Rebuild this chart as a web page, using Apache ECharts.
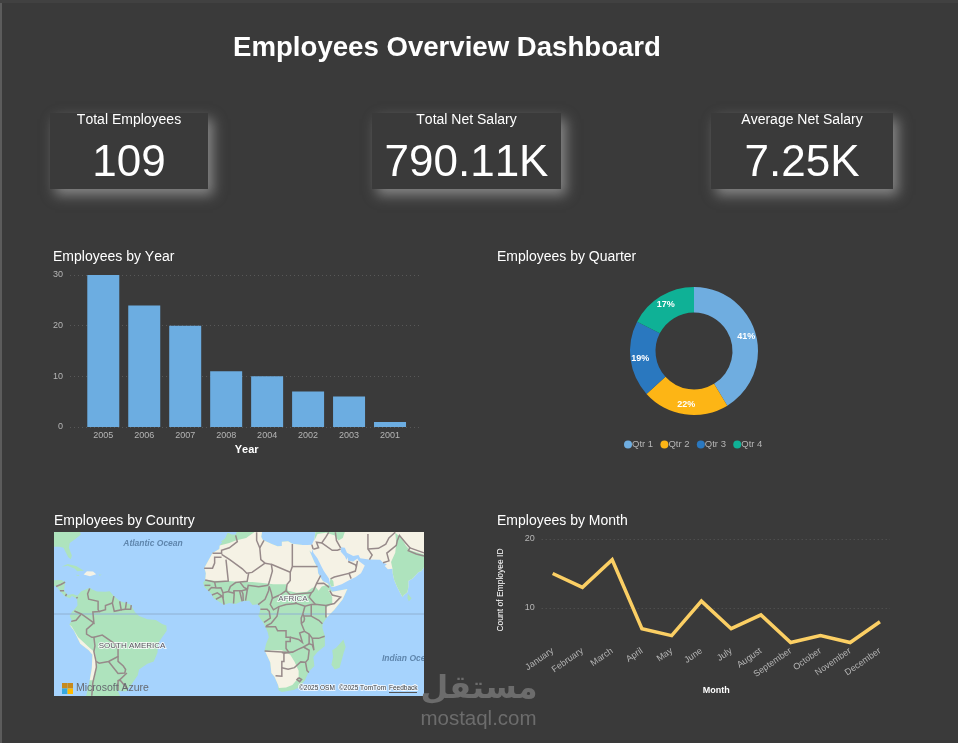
<!DOCTYPE html>
<html>
<head>
<meta charset="utf-8">
<style>
  html, body { margin: 0; padding: 0; background: #3a3a3a; }
  #chart { width: 958px; height: 743px; }
</style>
<script src="https://cdn.jsdelivr.net/npm/echarts@6/dist/echarts.min.js"></script>
</head>
<body>
<div id="chart"></div>
<script>
// Dashboard figures
const dashboardTitle = 'Employees Overview Dashboard';
const kpiNames = ['Total Employees', 'Total Net Salary', 'Average Net Salary'];
const kpiValues = ['109', '790.11K', '7.25K'];

const years = ['2005', '2006', '2007', '2008', '2004', '2002', '2003', '2001'];
const yearCounts = [30, 24, 20, 11, 10, 7, 6, 1];

const quarters = ['Qtr 1', 'Qtr 2', 'Qtr 3', 'Qtr 4'];
const quarterCounts = [45, 24, 21, 19];

const months = ['January', 'February', 'March', 'April', 'May', 'June', 'July', 'August', 'September', 'October', 'November', 'December'];
const monthCounts = [15, 13, 17, 7, 6, 11, 7, 9, 5, 6, 5, 8];

// Map view limits, in degrees
const lonWest = -88.5, lonEast = 87.7, latEdge = 36.3;

// Land outlines, as [lon, lat]
const africaCoast = [[-5.9,35.8],[-6.8,34],[-9.6,31],[-9.8,29.5],[-13,27.8],[-14.8,25],[-16.9,21.5],[-16.2,19],[-16.5,16],[-17.5,14.7],[-16.7,12.5],[-15,11],[-13.5,9.5],[-12.5,7.5],[-11,6.5],[-7.6,4.4],[-5,5.2],[-2,4.8],[1,6],[4.5,6.3],[6,4.3],[8.5,4.6],[9.7,3.5],[9.5,1],[8.8,-0.8],[11,-3.9],[12.2,-6],[13.3,-8.8],[13.8,-11],[12.5,-14],[11.8,-17],[12.5,-18.5],[14.5,-22.5],[15,-27],[16.5,-28.6],[18.2,-32],[18.4,-34.1],[20,-34.8],[25.7,-34],[28,-33],[31,-30],[32.8,-26.5],[35.5,-24],[35,-20],[37,-17.8],[40.5,-15],[40.5,-10.5],[39.3,-6.5],[39.5,-4.5],[41.5,-1.5],[45,2],[49,7],[51.2,11.8],[48,11.2],[44,10.5],[43.2,11.8],[42.5,14],[39.5,15.5],[37.3,19],[37,21.5],[35.5,24],[33.8,27.5],[32.6,29.9],[32.3,31.2],[30,31.2],[25,31.7],[23,32.7],[20,32.5],[20,30.8],[18,30.6],[15.5,31.5],[11,33.2],[10.2,34.5],[10.6,36.3],[-1.5,36.3],[-2,35.2],[-4,35.2],[-5.4,35.9]];
const southAmericaCoast = [[-77.4,8.6],[-75.5,10.7],[-74,11.3],[-71.5,12.4],[-70,11.5],[-68,10.6],[-64,10.5],[-62,10.7],[-60,8.5],[-57,6],[-52,4.5],[-50,1],[-48,-1],[-44,-2.5],[-40,-2.8],[-37,-4.8],[-35,-5.5],[-34.8,-8],[-37,-11],[-39,-14],[-39.2,-18],[-41,-22],[-44,-23],[-48,-25.5],[-48.6,-28],[-52,-32.2],[-54,-34.5],[-57,-34.5],[-58.3,-34],[-57,-36.3],[-73.2,-36.3],[-71.5,-30],[-70.5,-25],[-70.2,-19],[-72,-17],[-76,-14],[-79,-8],[-81.2,-5],[-80,-3],[-81,-1],[-80,1],[-78.5,2.5],[-77.3,4],[-77.5,7],[-77.9,7.5]];
const centralAmericaCoast = [[-77.4,8.6],[-79.5,9.5],[-82,9],[-83.7,11],[-83.2,15],[-85,16],[-88.5,15.8],[-88.5,13.2],[-87.5,13],[-85.7,11],[-83.5,8.5],[-81,7.5],[-80,8.5],[-78,7.5]];
const usSoutheastCoast = [[-88.5,36.3],[-76,36.3],[-75.8,35.2],[-78,33.8],[-81,32],[-81.4,30],[-80,26.8],[-80.5,25.2],[-81.7,26],[-82.8,28],[-84,30],[-86,30.4],[-88.5,30.4]];
const cubaCoast = [[-84.9,21.9],[-82,23.1],[-78,22.3],[-74.2,20.2],[-77.5,19.9],[-78.5,21],[-82,22.4]];
const hispaniolaCoast = [[-74.4,18.5],[-72.8,19.9],[-69.9,19.8],[-68.4,18.6],[-71.4,17.7]];
const jamaicaCoast = [[-78.3,18.4],[-76.3,18.2],[-77,17.8]];
const puertoRicoCoast = [[-67.2,18.5],[-65.7,18.4],[-66.8,17.9]];
const madagascarCoast = [[49.3,-12],[50.4,-15.5],[49.5,-18],[47.5,-24.8],[45.2,-25.5],[43.6,-23.5],[44.4,-20],[44,-17],[46,-15.7],[48,-13.5]];
const sriLankaCoast = [[80,9.6],[81.8,7.5],[80.5,6],[79.8,7.5]];
const asiaCoast = [[32.3,31.2],[34.3,31.3],[35.5,33.5],[36,36.3],[87.7,36.3],[87.7,21.7],[86.5,20],[85,19.5],[82.3,16.6],[80.2,15.5],[80.3,13],[79.8,10.3],[78,8.9],[77.5,8],[76.3,10],[74.8,13],[73.5,16],[72.8,19],[72.7,21],[70.5,20.8],[69,22.3],[70,23],[68.2,23.7],[66.8,25],[61.5,25.1],[57.3,25.6],[56.5,27],[54,26.6],[51,28],[50,30],[48,30.2],[48.2,29.5],[48,28.5],[50,26.5],[50.8,25],[51.5,26],[51.5,24.5],[54,24.2],[56,25.5],[56.5,24.5],[59.5,22.5],[58.5,20.5],[57.7,19],[55,17.2],[52,15.8],[48.5,14],[45,12.8],[43.5,12.7],[42.8,14.8],[42.5,16.5],[40,20],[39,21.8],[37,25.5],[35,28],[34.6,29.5],[34.3,28],[33.2,28.8],[32.6,29.9]];

// Dry zones drawn over the base land
const saharaZone = [[-9.6,31],[-9.8,29.5],[-13,27.8],[-14.8,25],[-16.9,21.5],[-16.2,19],[-16.5,16],[-12,15.6],[-5,15.5],[0,15],[6,15],[12,14.5],[16,14],[22,14],[23,11],[27,10],[32,10.5],[34,12],[36,13],[37.5,11],[39,13],[42.5,14],[39.5,15.5],[37.3,19],[37,21.5],[35.5,24],[33.8,27.5],[32.6,29.9],[32.3,31.2],[30,31.2],[25,31.7],[23,32.7],[20,32.5],[20,30.8],[18,30.6],[15.5,31.5],[11,33.2],[10.2,34.5],[10.6,36.3],[7,36.3],[3,34],[-2,33],[-5,32]];
const hornZone = [[42,11.5],[44,10.5],[48,11.2],[51.2,11.8],[49,7],[45,2],[41.5,-1.5],[41,0],[41,3],[44,5],[44,8]];
const kalahariZone = [[12,-17.5],[12.5,-18.5],[14.5,-22.5],[15,-27],[16.5,-28.6],[18.2,-32],[18.6,-33.2],[22,-33],[25,-32],[28,-29],[28,-26],[26,-22],[24,-19],[20,-17],[15,-17]];
const atacamaZone = [[-71.5,-30],[-70.5,-25],[-70.2,-19],[-72,-17],[-76,-14],[-79,-8],[-81.2,-5],[-80,-6],[-77,-11],[-72,-15.5],[-69,-18],[-68,-23],[-69.5,-30]];

// Wetter zones drawn over the dry land
const indiaZone = [[87.7,21.7],[86.5,20],[85,19.5],[82.3,16.6],[80.2,15.5],[80.3,13],[79.8,10.3],[78,8.9],[77.5,8],[76.3,10],[74.8,13],[73.5,16],[72.8,19],[72.7,21],[72,24],[74,28],[74.5,32],[74,36],[77,34],[79,31],[81,29],[87.7,27.2]];
const levantZone = [[35.5,33],[36,36.3],[50,36.3],[49,34],[47,33],[45,35],[41,36],[37,35.5]];
const moroccoZone = [[-5.9,35.8],[-6.8,34],[-9.1,32.5],[-6,32.2],[-3,33.5],[-1.5,35.2],[-2,35.2],[-4,35.2],[-5.4,35.9]];
const yemenZone = [[43.5,12.9],[44.8,13.2],[44.5,15.5],[43.2,16.8],[42.8,14.8]];

// Country borders, as [lon, lat] paths
const borderPaths = [
  [[-2,35],[-1.2,32.5],[-5,30],[-8.7,29],[-8.7,27.7],[-13,27.7]],
  [[-8.7,27.3],[-4.8,25],[1.2,21],[3.3,19],[5.8,19.4],[12,23.5]],
  [[-8.7,26],[-12,26],[-12,23.5],[-13,21.3],[-17,21.3]],
  [[-6.6,25],[-5.5,15.5],[-12,15],[-16.5,16]],
  [[4.2,19.1],[3.5,15.4],[0,15],[-2,14.8],[-4.5,13],[-5.5,10.5]],
  [[12,23.5],[15,23],[15.5,20],[14,15],[13.5,13.5]],
  [[8,36.2],[8,33],[9.5,30],[10,25],[12,23.5]],
  [[9.5,30],[11.5,33]],
  [[25,31.6],[25,22],[24,19.5],[15,23]],
  [[25,22],[37,22]],
  [[24,19.5],[24,15.7],[22.5,14],[22,11],[19,9],[15.5,7.5]],
  [[38.5,18],[36.5,14.3],[35,11],[34,10],[33,8],[35.9,4.6]],
  [[36.5,14.3],[40,14.5],[42.5,12.6]],
  [[24,9],[27,9.5],[34,10]],
  [[22,11],[24,9],[27,5],[31,3.7],[34,4.5],[35.9,4.6],[41,4],[45,5],[48,8],[44,9],[42.8,11]],
  [[41,4],[41,-1.7]],
  [[34,-1],[37.6,-3],[39.3,-4.6]],
  [[31,3.7],[30,0],[30.5,-1],[34,-1],[34,4.5]],
  [[14,13],[15,10],[15.5,7.5],[14.5,4.5],[16,2],[18.6,3.5],[22,4.5],[27,5]],
  [[18.6,3.5],[17.7,-1],[15,-4.3],[12.5,-5.7]],
  [[9.8,2.2],[13,2.2],[14,1.3],[14.5,-2],[11.5,-4]],
  [[8.7,4.5],[12,7],[13.7,11],[14,13]],
  [[3.6,11.7],[4,13.5],[9,12.8],[13.5,13.5]],
  [[2.7,6.4],[3.6,11.7],[0.9,11],[1.5,9.5],[1.6,6.2]],
  [[1.1,6],[0,10.5],[0,11]],
  [[-5.5,10.5],[-3,9.9],[-2.8,11],[0.9,11]],
  [[0,15],[2,12.5],[3.6,11.7]],
  [[-3,5],[-2.7,9.5],[-2.8,11]],
  [[-7.5,4.5],[-8,7.5],[-8,10],[-6,10.5],[-5.5,10.5]],
  [[-11.4,7],[-8.5,8.5],[-8,7.5]],
  [[-15,11],[-13.5,12.5],[-11,12.3],[-9,12.4],[-8,10]],
  [[-13.3,9],[-10.7,10],[-8.5,8.5]],
  [[-12,15],[-11.4,12.3]],
  [[-16.8,13.5],[-14,13.5]],
  [[12.2,-6],[17,-6],[18,-8],[22,-8],[22,-11],[24,-11],[24,-13],[22,-13],[22,-16.2],[23.4,-18]],
  [[11.8,-17.3],[20,-17.8],[23.4,-18]],
  [[24,-11],[28,-12],[29.8,-13.4],[28.5,-9],[30.8,-8.2],[29.3,-4.5],[29.2,-2],[30,0]],
  [[30.5,-1],[30.8,-2.4],[30.5,-3.5],[29.3,-4.5]],
  [[30.8,-8.2],[33,-9.5],[34.5,-11.5],[37.5,-11.5],[40.4,-10.5]],
  [[33,-9.5],[33,-14],[34.5,-14.5],[35.3,-17],[34.5,-11.5]],
  [[33,-14],[30.3,-15.5],[28,-16.5],[25.3,-17.8],[23.4,-18]],
  [[30.3,-15.5],[33,-17],[32.5,-21],[31.3,-22.4],[32,-26],[32.9,-26.8]],
  [[20,-18],[21,-18.3],[21,-22],[20,-22],[20,-28.4],[17,-28.2]],
  [[20,-24.8],[23,-25.4],[26,-24.7],[29,-22.2],[31.3,-22.4]],
  [[21,-18.3],[25.3,-17.8]],
  [[28,-29],[29.4,-29.7],[28.5,-30.6],[27.2,-29.8],[28,-29]],
  [[-71.5,12],[-72.5,9.5],[-72,7],[-67.5,6],[-67.5,2],[-67,1.2],[-70,1],[-69.5,-4.2],[-74,-1],[-75.5,0],[-78.8,1.4]],
  [[-77.2,7.9],[-77.9,7.5]],
  [[-75.5,0],[-78,-3],[-80.3,-3.5]],
  [[-69.5,-4.2],[-73,-7.3],[-73,-9.5],[-70.5,-11],[-69.5,-11],[-69,-15],[-69.5,-17.5],[-68.5,-22],[-68.3,-24.5],[-70,-31],[-70.5,-36.2]],
  [[-69.5,-11],[-65.5,-10],[-60,-13.7],[-58,-16.3],[-58,-19.8],[-62.5,-22],[-67,-22.8],[-68.5,-22]],
  [[-58,-19.8],[-58,-22],[-55.5,-24],[-54.4,-25.5],[-54.8,-27],[-58,-27.2],[-62.5,-22]],
  [[-58,-34],[-58,-30.2],[-57,-30],[-53.4,-33.7]],
  [[-57.6,-30.2],[-53.8,-27]],
  [[-60,8.5],[-60.7,5.2],[-59.8,1.3],[-56.5,2],[-57.2,6]],
  [[-67,1.2],[-64,2],[-64,4],[-60.7,5.2]],
  [[-54,5.8],[-54.5,2.3]],
  [[-56.5,2],[-54.5,2.3],[-52,2.3],[-51.7,4.2]],
  [[-85.7,11],[-83.7,11]],
  [[-83,8.5],[-82.5,9.5]],
  [[-87.5,13],[-85,14],[-83.2,15]],
  [[34.3,31.3],[34.9,29.5]],
  [[35,29.4],[37.5,30],[36.5,32.3],[39,32],[41,34.4],[42.3,36.2]],
  [[39,32],[44,29],[46.5,29],[48,29.5]],
  [[48,30],[46,33],[45.5,36.2]],
  [[43.2,16.5],[45,17.3],[52,19],[53,16.6]],
  [[52,19],[55,20],[55.5,22],[56,24.5]],
  [[51.6,24.2],[55,22.8],[55.5,22]],
  [[61.7,25],[63,27],[61,29.5],[61,31.4],[61,35.5]],
  [[61,29.5],[66,29.8],[69.5,31.5],[71,34],[74,36.2]],
  [[68.2,23.7],[71,24.5],[70,27.8],[74.5,31],[75,33],[76,35],[79,32],[81,30],[80.2,28.8],[84,27.4],[87.7,26.6]],
  [[81,30],[87.7,27.9]]
];
const equatorPath = [[lonWest, 0], [lonEast, 0]];

// Card boxes: left edge and width
const kpiCardLefts = [50, 372, 711];
const kpiCardWidths = [158, 189, 182];

const FONT = '"Liberation Sans", Arial, sans-serif';
const PAGE = '#3a3a3a';

// Keep digit pairs such as "11" at their full advance width in canvas text
const nativeGetContext = HTMLCanvasElement.prototype.getContext;
HTMLCanvasElement.prototype.getContext = function (kind, opts) {
  const ctx = nativeGetContext.call(this, kind, opts);
  if (ctx && kind === '2d') ctx.fontKerning = 'none';
  return ctx;
};

const clampLat = p => [Math.min(lonEast, Math.max(lonWest, p[0])), Math.min(latEdge, Math.max(-latEdge, p[1]))];
const multi = (name, rings) => ({
  type: 'Feature',
  properties: { name },
  geometry: { type: 'MultiPolygon', coordinates: rings.map(r => [r.map(clampLat).concat([clampLat(r[0])])]) }
});

echarts.registerMap('atlanticView', {
  type: 'FeatureCollection',
  features: [
    multi('sea', [[[lonWest, latEdge], [lonEast, latEdge], [lonEast, -latEdge], [lonWest, -latEdge]]]),
    multi('moist', [africaCoast, southAmericaCoast, centralAmericaCoast, usSoutheastCoast, cubaCoast, jamaicaCoast, puertoRicoCoast, madagascarCoast, sriLankaCoast]),
    multi('dry', [asiaCoast, saharaZone, hornZone, kalahariZone, atacamaZone, hispaniolaCoast]),
    multi('moistOver', [indiaZone, levantZone, moroccoZone, yemenZone])
  ]
});

const mercDeg = lat => Math.log(Math.tan(Math.PI / 4 + lat * Math.PI / 360)) * 180 / Math.PI;
const fromMerc = m => (2 * Math.atan(Math.exp(m * Math.PI / 180)) - Math.PI / 2) * 180 / Math.PI;
const mercator = {
  project: p => [p[0], -mercDeg(p[1])],
  unproject: p => [p[0], fromMerc(-p[1])]
};

// Small helpers for the page-level text and card boxes
const label = (text, x, y, font, fill, align, extra) => ({
  type: 'text', z: 20, silent: true,
  style: Object.assign({ text, x, y, font: font + ' ' + FONT, fill, textAlign: align || 'left', textVerticalAlign: 'middle' }, extra || {})
});
const halo = { stroke: 'rgba(255,255,255,0.75)', lineWidth: 2 };

const graphics = [
  { type: 'rect', z: 1, silent: true, shape: { x: 0, y: 0, width: 2, height: 743 }, style: { fill: '#5c5c5c' } },
  { type: 'rect', z: 1, silent: true, shape: { x: 0, y: 0, width: 958, height: 3 }, style: { fill: '#414141' } },
  label(dashboardTitle, 447, 48, 'bold 27.6px', '#ffffff', 'center'),
  label('Employees by Year', 53, 257, '14px', '#ffffff'),
  label('Employees by Quarter', 497, 257, '14px', '#ffffff'),
  label('Employees by Country', 54, 521, '14px', '#ffffff'),
  label('Employees by Month', 497, 521, '14px', '#ffffff'),
  Object.assign(label('Count of Employee ID', 0, 0, '8.5px', '#ffffff', 'center'), { x: 501, y: 590, rotation: Math.PI / 2 }),

  // Map annotations
  label('Atlantic Ocean', 153, 544, 'italic bold 8.5px', '#5f86ad', 'center'),
  label('SOUTH AMERICA', 132, 646, '8px', '#5b5560', 'center', halo),
  label('AFRICA', 293, 599, '8px', '#6a6470', 'center', halo),
  label('Indian Ocean', 382, 659, 'italic bold 8.5px', '#5f86ad', 'left'),
  { type: 'rect', z: 21, silent: true, shape: { x: 424, y: 650, width: 20, height: 20 }, style: { fill: PAGE } },
  { type: 'rect', z: 20, silent: true, shape: { x: 62, y: 683, width: 5.5, height: 5.5 }, style: { fill: '#c68a1e' } },
  { type: 'rect', z: 20, silent: true, shape: { x: 67.5, y: 683, width: 5.5, height: 5.5 }, style: { fill: '#c68a1e' } },
  { type: 'rect', z: 20, silent: true, shape: { x: 62, y: 688.5, width: 5.5, height: 5.5 }, style: { fill: '#35a8e0' } },
  { type: 'rect', z: 20, silent: true, shape: { x: 67.5, y: 688.5, width: 5.5, height: 5.5 }, style: { fill: '#ffb900' } },
  label('Microsoft Azure', 76, 688.5, '10.5px', '#666a70'),
  label('\u00a92025 OSM', 299, 688, '6.5px', '#3d3d3d', 'left', halo),
  label('\u00a92025 TomTom', 339, 688, '6.5px', '#3d3d3d', 'left', halo),
  label('Feedback', 389, 688, '6.5px', '#3d3d3d', 'left', halo),
  { type: 'rect', z: 20, silent: true, shape: { x: 389, y: 692, width: 28, height: 1 }, style: { fill: '#555555' } },

  // Publisher mark in the lower corner
  label('\u0645\u0633\u062a\u0642\u0644', 479, 690, 'bold 32px', '#6c6c6c', 'center', { font: 'bold 32px "DejaVu Sans", sans-serif' }),
  label('mostaql.com', 478.5, 719.5, '20.5px', '#6c6c6c', 'center')
];

kpiNames.forEach((name, i) => {
  const left = kpiCardLefts[i], width = kpiCardWidths[i], mid = left + width / 2;
  graphics.push(
    { type: 'rect', z: 2, silent: true, shape: { x: left, y: 113, width, height: 76 },
      style: { fill: PAGE, shadowBlur: 12, shadowOffsetX: 5, shadowOffsetY: 6, shadowColor: 'rgba(205,205,205,0.52)' } },
    label(name, mid, 120, '14px', '#ffffff', 'center'),
    label(kpiValues[i], mid, 164, '44px', '#ffffff', 'center')
  );
});

const quarterTotal = quarterCounts.reduce((a, b) => a + b, 0);
const dotted = { color: '#585858', type: [1, 3], width: 1 };
const tickText = { color: '#b5b5b5', fontSize: 9, fontFamily: FONT };
const noAxisParts = { axisLine: { show: false }, axisTick: { show: false } };

const option = {
  backgroundColor: PAGE,
  animation: false,
  graphic: { elements: graphics },
  grid: [
    { left: 70, top: 275, width: 352, height: 152 },      // year rules
    { left: 82.8, top: 275, width: 327.7, height: 152 },  // year bars
    { left: 541.7, top: 539, width: 348.3, height: 138 }, // month rules
    { left: 537.8, top: 539, width: 357, height: 138 }    // month line
  ],
  xAxis: [
    { gridIndex: 0, type: 'value', min: 0, max: 1, show: false },
    { gridIndex: 1, type: 'category', data: years, ...noAxisParts,
      axisLabel: Object.assign({ margin: 4, interval: 0 }, tickText),
      name: 'Year', nameLocation: 'middle', nameGap: 17, nameMoveOverlap: false,
      nameTextStyle: { color: '#ffffff', fontSize: 11, fontWeight: 'bold', fontFamily: FONT } },
    { gridIndex: 2, type: 'value', min: 0, max: 1, show: false },
    { gridIndex: 3, type: 'category', data: months, ...noAxisParts,
      axisLabel: Object.assign({ margin: -27, interval: 0, rotate: 35, hideOverlap: false }, tickText),
      name: 'Month', nameLocation: 'middle', nameGap: 9, nameMoveOverlap: false,
      nameTextStyle: { color: '#ffffff', fontSize: 9, fontWeight: 'bold', fontFamily: FONT } }
  ],
  yAxis: [
    { gridIndex: 0, type: 'value', min: 0, max: 30, interval: 10, ...noAxisParts,
      axisLabel: Object.assign({ margin: 7 }, tickText),
      splitLine: { show: true, lineStyle: dotted } },
    { gridIndex: 1, type: 'value', min: 0, max: 30, show: false, splitLine: { show: false } },
    { gridIndex: 2, type: 'value', min: 0, max: 20, interval: 10, ...noAxisParts,
      axisLabel: Object.assign({ margin: 7, formatter: v => (v === 0 ? '' : String(v)) }, tickText),
      splitLine: { show: true, showMinLine: false, lineStyle: dotted } },
    { gridIndex: 3, type: 'value', min: 0, max: 20, show: false, splitLine: { show: false } }
  ],
  legend: {
    data: quarters, left: 624, top: 439.5, orient: 'horizontal', padding: 0,
    icon: 'circle', itemWidth: 8, itemHeight: 8, itemGap: 7.3,
    textStyle: { color: '#b5b5b5', fontSize: 9.5, fontFamily: FONT, padding: [0, 0, 0, -5] }
  },
  geo: {
    map: 'atlanticView', silent: true, roam: false, left: 54, top: 532, width: 370, height: 164,
    projection: mercator,
    label: { show: false },
    itemStyle: { borderWidth: 0 },
    regions: [
      { name: 'sea', itemStyle: { areaColor: '#a6d3fd', borderWidth: 0 } },
      { name: 'moist', itemStyle: { areaColor: '#aee3bd', borderWidth: 0 } },
      { name: 'dry', itemStyle: { areaColor: '#f5f2e5', borderWidth: 0 } },
      { name: 'moistOver', itemStyle: { areaColor: '#aee3bd', borderWidth: 0 } }
    ]
  },
  series: [
    { type: 'bar', xAxisIndex: 1, yAxisIndex: 1, data: yearCounts, barWidth: 32,
      itemStyle: { color: '#6cade1' }, silent: true },
    { type: 'pie', center: [694, 351], radius: [38.5, 64], startAngle: 90, silent: true,
      avoidLabelOverlap: false, color: ['#6fade0', '#fdb515', '#2a78bf', '#0fb196'],
      data: quarters.map((name, i) => ({ name, value: quarterCounts[i] })),
      label: { show: true, position: 'inside', color: '#ffffff', fontSize: 9, fontWeight: 'bold', fontFamily: FONT,
        formatter: p => Math.round(p.value / quarterTotal * 100) + '%' },
      labelLine: { show: false } },
    { type: 'line', xAxisIndex: 3, yAxisIndex: 3, data: monthCounts, symbol: 'none', silent: true,
      lineStyle: { color: '#fbcf64', width: 3.5, join: 'miter' } },
    { type: 'lines', coordinateSystem: 'geo', polyline: true, silent: true, zlevel: 0, z: 5,
      data: [{ coords: equatorPath }], lineStyle: { color: '#8fb0d2', width: 1, opacity: 1 } },
    { type: 'lines', coordinateSystem: 'geo', polyline: true, silent: true, zlevel: 0, z: 6,
      data: borderPaths.map(coords => ({ coords })),
      lineStyle: { color: '#978a8a', width: 1.5, opacity: 1 } }
  ]
};

echarts.init(document.getElementById('chart'), null, { renderer: 'canvas' }).setOption(option);
</script>
</body>
</html>
